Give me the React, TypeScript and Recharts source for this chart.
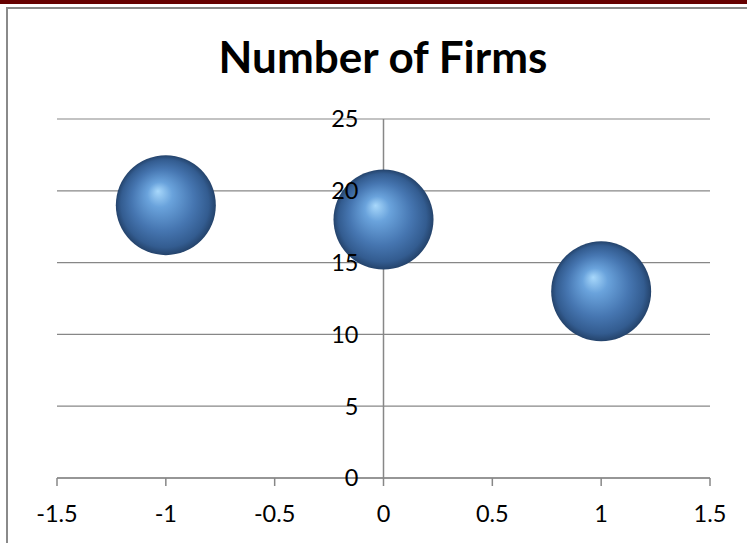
import { CartesianGrid, ReferenceDot, ReferenceLine, Scatter, ScatterChart, XAxis, YAxis, ZAxis } from "recharts";

const xValues = [-1, 0, 1];
const firmCounts = [19, 18, 13];
const bubbleSizes = [1, 1, 1];
const xTicks = [-1.5, -1, -0.5, 0, 0.5, 1, 1.5];
const yTicks = [0, 5, 10, 15, 20, 25];

const data = xValues.map((x, i) => ({ x, y: firmCounts[i], z: bubbleSizes[i] }));

const FONT = "Lato, 'Open Sans', sans-serif";
const AXIS_GRAY = "#878787";

function Sphere(props: any) {
  const { cx, cy, size, width } = props;
  const r = width ? width / 2 : Math.sqrt((size ?? 7854) / Math.PI);
  return <circle cx={cx} cy={cy} r={r} fill="url(#sphereFill)" />;
}

// y labels sit on the x=0 axis instead, drawn below
function NoTick() {
  return <g />;
}

export default function App() {
  return (
    <div
      style={{
        position: "absolute",
        left: 0,
        top: 0,
        width: 747,
        height: 543,
        background: "#fff",
        overflow: "hidden",
        fontFamily: FONT,
      }}
    >
      <div style={{ position: "absolute", left: 0, top: 0, width: 747, height: 4, background: "#660000" }} />
      <div
        style={{
          position: "absolute",
          left: 6,
          top: 7,
          width: 760,
          height: 560,
          borderLeft: "2px solid #8a8a8a",
          borderTop: "2px solid #8a8a8a",
        }}
      />
      <div style={{ position: "absolute", left: 0, top: 0 }}>
        <ScatterChart width={747} height={543} margin={{ top: 119, left: 57, right: 37, bottom: 0 }}>
          <defs>
            <radialGradient id="sphereFill" cx="0.5" cy="0.5" r="0.5" fx="0.42" fy="0.36">
              <stop offset="0%" stopColor="#a8d8fb" />
              <stop offset="25%" stopColor="#6aa3dc" />
              <stop offset="62%" stopColor="#4676b1" />
              <stop offset="88%" stopColor="#335c90" />
              <stop offset="100%" stopColor="#24436b" />
            </radialGradient>
          </defs>
          <CartesianGrid vertical={false} stroke={AXIS_GRAY} strokeWidth={1.2} />
          <XAxis
            type="number"
            dataKey="x"
            domain={[-1.5, 1.5]}
            ticks={xTicks}
            allowDataOverflow
            height={65}
            stroke={AXIS_GRAY}
            strokeWidth={1.5}
            tickSize={8}
            tickMargin={19}
            tick={{ fill: "#000", fontSize: 23.5, fontFamily: FONT }}
          />
          <YAxis
            type="number"
            dataKey="y"
            domain={[0, 25]}
            ticks={yTicks}
            width={0}
            axisLine={false}
            tickLine={false}
            tick={<NoTick />}
          />
          <ZAxis type="number" dataKey="z" range={[7854, 7854]} />
          <ReferenceLine x={0} stroke={AXIS_GRAY} strokeWidth={1.5} />
          {yTicks.map((v) => (
            <ReferenceDot
              key={v}
              x={0}
              y={v}
              r={0}
              fill="none"
              stroke="none"
              label={{ value: v, position: "left", offset: 25, fill: "#000", fontSize: 23.5, fontFamily: FONT }}
            />
          ))}
          <Scatter data={data} shape={<Sphere />} isAnimationActive={false} />
        </ScatterChart>
      </div>
      <svg width={747} height={110} style={{ position: "absolute", left: 0, top: 0 }}>
        <text x={383} y={73} textAnchor="middle" fontFamily={FONT} fontWeight="bold" fontSize={44} fill="#000">
          Number of Firms
        </text>
      </svg>
    </div>
  );
}
